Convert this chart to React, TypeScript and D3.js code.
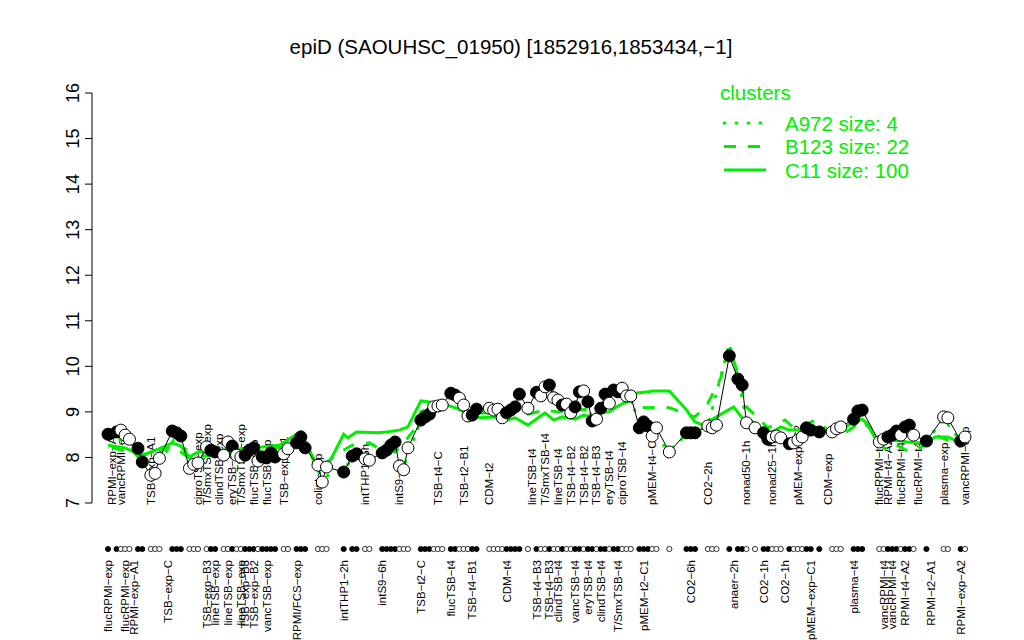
import React from 'react';
import * as d3 from 'd3';

const W = 1024;
const H = 640;
const GREEN = '#00ee00';
const FONT = '"Liberation Sans", Arial, Helvetica, sans-serif';

// condition slot, expression value, filled marker (1) or open (0)
const pointSlots = [
  0, 2, 3, 4, 5, 7, 8, 10, 11, 12, 15, 16, 17, 19, 20, 21, 23, 24, 25, 27,
  28, 29, 30, 31, 32, 33, 34, 35, 36, 37, 38, 39, 41, 42, 44, 45, 46, 49, 50, 51,
  55, 57, 58, 60, 61, 64, 65, 66, 67, 68, 69, 70, 73, 74, 75, 76, 77, 78, 80, 81,
  82, 83, 84, 85, 86, 89, 90, 91, 92, 93, 94, 95, 96, 98, 100, 101, 102, 103, 104, 105,
  106, 107, 108, 109, 110, 111, 112, 113, 114, 115, 116, 117, 118, 119, 120, 121, 122, 124, 125, 126,
  127, 128, 131, 135, 136, 137, 140, 141, 142, 145, 147, 148, 149, 151, 153, 154, 155, 156, 157, 159,
  160, 161, 162, 163, 164, 166, 169, 170, 171, 174, 175, 176, 180, 181, 182, 183, 184, 185, 186, 187,
  188, 191, 195, 196, 199, 200,
];
const pointValues = [
  8.51, 8.56, 8.6, 8.49, 8.4, 8.2, 7.9, 7.61, 7.65, 7.98, 8.58, 8.54, 8.47, 7.76, 7.85, 7.88, 8.23, 8.16, 8.12, 8.05,
  8.34, 8.25, 8.05, 8.01, 8.05, 8.16, 8.21, 7.92, 8.01, 7.99, 8.1, 8.01, 8.08, 8.19, 8.32, 8.45, 8.21, 7.83, 7.46, 7.79,
  7.68, 8.03, 8.08, 7.97, 7.94, 8.1, 8.16, 8.27, 8.34, 7.81, 7.73, 8.21, 8.82, 8.89, 8.95, 9.11, 9.13, 9.15, 9.41, 9.37,
  9.3, 9.15, 8.91, 8.93, 9.06, 9.08, 9.04, 9.06, 8.87, 8.98, 9.04, 9.11, 9.39, 9.08, 9.43, 9.35, 9.55, 9.59, 9.31, 9.26,
  9.15, 9.17, 8.98, 9.11, 9.44, 9.46, 9.22, 8.8, 8.84, 9.08, 9.39, 9.19, 9.48, 9.44, 9.52, 9.35, 9.35, 8.65, 8.78, 8.69,
  8.47, 8.65, 8.12, 8.54, 8.54, 8.54, 8.69, 8.65, 8.71, 10.23, 9.72, 9.59, 8.76, 8.65, 8.54, 8.4, 8.45, 8.47, 8.43, 8.3,
  8.32, 8.38, 8.45, 8.65, 8.6, 8.56, 8.56, 8.63, 8.67, 8.84, 9.02, 9.04, 8.34, 8.4, 8.45, 8.49, 8.58, 8.49, 8.67, 8.71,
  8.49, 8.36, 8.89, 8.87, 8.36, 8.45,
];
const pointFilled = [
  1, 1, 0, 0, 0, 1, 1, 0, 0, 0, 1, 1, 1, 0, 0, 0, 0, 1, 1, 0,
  0, 1, 0, 0, 1, 1, 1, 0, 1, 1, 1, 1, 0, 0, 1, 1, 1, 0, 0, 0,
  1, 1, 1, 0, 0, 1, 1, 1, 1, 0, 0, 0, 1, 1, 1, 0, 0, 0, 1, 1,
  0, 0, 0, 1, 1, 0, 0, 0, 0, 1, 1, 1, 1, 0, 1, 0, 0, 1, 0, 0,
  1, 0, 0, 1, 1, 0, 1, 1, 0, 1, 1, 0, 1, 1, 0, 0, 0, 1, 1, 1,
  0, 0, 0, 1, 1, 1, 0, 0, 0, 1, 1, 1, 0, 0, 1, 1, 0, 0, 0, 1,
  0, 0, 0, 1, 1, 1, 0, 0, 0, 1, 1, 1, 0, 0, 1, 1, 1, 0, 1, 1,
  0, 1, 0, 0, 1, 0,
];

// cluster profiles
const c11Slots = [
  0, 4, 6, 7, 10, 13, 15, 17, 19, 21, 25, 29, 32, 36, 40, 43, 45, 47, 49, 51,
  55, 56, 58, 63, 65, 68, 70, 73, 75, 76, 79, 82, 84, 87, 90, 93, 95, 98, 102, 104,
  106, 109, 111, 113, 115, 117, 119, 122, 123, 126, 127, 131, 135, 137, 139, 142, 144, 146, 148, 150,
  153, 155, 157, 159, 161, 165, 168, 171, 174, 176, 177, 179, 182, 185, 188, 191, 193, 196, 199,
];
const c11Values = [
  8.27, 8.21, 8.12, 8.01, 8.12, 8.23, 8.32, 8.25, 8.01, 8.12, 8.16, 8.16, 8.21, 8.23, 8.27, 8.45, 8.56, 8.16, 7.79, 7.77,
  8.51, 8.43, 8.56, 8.54, 8.56, 8.6, 8.67, 9.24, 9.22, 9.13, 9.15, 9.06, 8.93, 8.87, 8.89, 8.82, 8.87, 8.71, 8.98, 8.82,
  8.89, 8.84, 8.93, 8.89, 8.98, 9.0, 9.13, 9.26, 9.41, 9.44, 9.46, 9.46, 9.04, 8.78, 8.71, 8.89, 9.0, 9.11, 8.87, 8.82,
  8.54, 8.56, 8.67, 8.6, 8.6, 8.6, 8.6, 8.6, 8.78, 8.84, 8.76, 8.43, 8.38, 8.36, 8.32, 8.32, 8.45, 8.45, 8.32,
];
const b123Slots = [
  1, 6, 10, 15, 19, 24, 31, 38, 45, 48, 49, 53, 57, 61, 63, 67, 69, 72, 73, 77,
  80, 81, 85, 88, 91, 95, 98, 102, 105, 109, 113, 117, 122, 123, 126, 130, 132, 135, 137, 140,
  143, 145, 147, 149, 151, 154, 158, 160, 162, 165, 168, 172, 174, 176, 178, 179, 182, 184, 187, 190,
  193, 196, 199,
];
const b123Values = [
  8.21, 8.1, 8.05, 8.25, 7.99, 8.05, 8.12, 8.16, 8.38, 7.94, 7.72, 8.05, 8.27, 8.32, 8.21, 8.12, 8.32, 8.67, 9.0, 9.17,
  9.19, 9.09, 8.95, 8.98, 8.98, 9.04, 8.95, 9.04, 9.0, 9.04, 9.06, 9.11, 9.24, 9.11, 9.09, 9.11, 9.06, 8.93, 8.89, 9.19,
  9.74, 10.4, 9.85, 9.11, 8.93, 8.65, 8.82, 8.65, 8.67, 8.82, 8.6, 8.54, 8.67, 8.82, 8.65, 8.34, 8.16, 8.27, 8.12, 8.23,
  8.49, 8.38, 8.23,
];
const a972Slots = [
  0, 5, 8, 11, 16, 20, 25, 30, 36, 41, 45, 50, 55, 58, 61, 66, 69, 73, 77, 80,
  84, 89, 93, 96, 100, 103, 108, 111, 113, 118, 122, 124, 127, 131, 135, 140, 145, 147, 149, 153,
  159, 163, 170, 175, 180, 184, 188, 191, 195, 199,
];
const a972Values = [
  8.45, 8.35, 7.95, 7.7, 8.5, 7.9, 8.1, 8.05, 8.0, 8.1, 8.4, 7.55, 7.75, 8.05, 7.95, 8.3, 7.8, 8.8, 9.1, 9.35,
  8.95, 9.05, 9.0, 9.35, 9.4, 9.55, 9.0, 9.4, 8.85, 9.45, 9.35, 8.7, 8.5, 8.15, 8.5, 8.7, 10.5, 9.75, 8.8, 8.55,
  8.3, 8.6, 8.6, 8.95, 8.35, 8.55, 8.5, 8.35, 8.85, 8.35,
];

// condition labels above the marker row and below it
const topLabelSlots = [
  1, 3, 10, 21, 23, 26, 29, 31, 34, 37, 41, 49, 60, 68, 77, 83, 89, 99, 102, 105,
  108, 111, 114, 117, 120, 127, 140, 149, 155, 161, 168, 180, 182, 185, 189, 195, 200,
];
const topLabels = [
  'RPMI−exp−A2', 'vancRPMI−exp', 'TSB−exp−A1', 'ciproTSB−exp', 'T/SmxTSB−exp', 'clindTSB−exp', 'eryTSB−exp',
  'T/SmxTSB−exp', 'flucTSB−exp', 'flucTSB−exp', 'TSB−exp−B1', 'colist−exp', 'intTHP1−6h', 'intS9−2h',
  'TSB−t4−C', 'TSB−t2−B1', 'CDM−t2', 'lineTSB−t4', 'T/SmxTSB−t4', 'lineTSB−t4', 'TSB−t4−B2', 'TSB−t4−B2',
  'TSB−t4−B3', 'eryTSB−t4', 'ciproTSB−t4', 'pMEM−t4−C1', 'CO2−2h', 'nonad50−1h', 'nonad25−1h',
  'pMEM−exp−C2', 'CDM−exp', 'flucRPMI−t4', 'RPMI−t4−A2', 'flucRPMI−t4', 'flucRPMI−t4', 'plasma−exp',
  'vancRPMI−exp',
];
const bottomLabelSlots = [
  0, 4, 6, 14, 23, 25, 28, 31, 32, 34, 37, 44, 55, 64, 73, 80, 85, 93, 100, 103,
  105, 109, 112, 115, 119, 125, 136, 146, 153, 158, 164, 174, 181, 183, 186, 192, 199,
];
const bottomLabels = [
  'flucRPMI−exp', 'flucRPMI−exp', 'RPMI−exp−A1', 'TSB−exp−C', 'TSB−exp−B3', 'lineTSB−exp', 'lineTSB−exp',
  'lineTSB−exp', 'TSB−exp−B3', 'TSB−exp−B2', 'vancTSB−exp', 'RPMI/FCS−exp', 'intTHP1−2h', 'intS9−6h',
  'TSB−t2−C', 'flucTSB−t4', 'TSB−t4−B1', 'CDM−t4', 'TSB−t4−B3', 'TSB−t4−B3', 'clindTSB−t4', 'vancTSB−t4',
  'eryTSB−t4', 'clindTSB−t4', 'T/SmxTSB−t4', 'pMEM−t2−C1', 'CO2−6h', 'anaer−2h', 'CO2−1h', 'CO2−1h',
  'pMEM−exp−C1', 'plasma−t4', 'vancRPMI−t4', 'vancRPMI−t4', 'RPMI−t4−A2', 'RPMI−t2−A1', 'RPMI−exp−A2',
];

const yTicks = [7, 8, 9, 10, 11, 12, 13, 14, 15, 16];

const legendItems = [
  { label: 'A972 size: 4', dash: '1 11' },
  { label: 'B123 size: 22', dash: '12 12' },
  { label: 'C11 size: 100', dash: '' },
];

export default function App() {
  const x = d3.scaleLinear().domain([0, 200]).range([108, 965]);
  const y = d3.scaleLinear().domain([7, 16]).range([503, 93]);
  const axisX = 92;
  const rugY = 549;

  const line = d3
    .line<[number, number]>()
    .x((d) => x(d[0]))
    .y((d) => y(d[1]));

  const zip = (s: number[], v: number[]) => s.map((k, i) => [k, v[i]] as [number, number]);

  const points = pointSlots.map((s, i) => ({ s, v: pointValues[i], f: pointFilled[i] === 1 }));

  return (
    <svg width={W} height={H} style={{ position: 'absolute', left: 0, top: 0, background: '#fff' }} fontFamily={FONT}>
      <rect width={W} height={H} fill="#fff" />
      <text x={511} y={54} textAnchor="middle" fontSize={20.5}>
        epiD (SAOUHSC_01950) [1852916,1853434,−1]
      </text>

      {/* y axis */}
      <line x1={axisX} x2={axisX} y1={y(7)} y2={y(16)} stroke="#000" />
      {yTicks.map((t) => (
        <g key={t}>
          <line x1={axisX - 7} x2={axisX} y1={y(t)} y2={y(t)} stroke="#000" />
          <text
            transform={`translate(79,${y(t)}) rotate(-90)`}
            textAnchor="middle"
            fontSize={18}
          >
            {t}
          </text>
        </g>
      ))}

      {/* condition labels (under the marks) */}
      {topLabels.map((l, i) => (
        <text
          key={`t${i}`}
          transform={`translate(${x(topLabelSlots[i]) + 4},505) rotate(-90)`}
          fontSize={11.5}
        >
          {l}
        </text>
      ))}
      {bottomLabels.map((l, i) => (
        <text
          key={`b${i}`}
          transform={`translate(${x(bottomLabelSlots[i]) + 4},560) rotate(-90)`}
          textAnchor="end"
          fontSize={11.5}
        >
          {l}
        </text>
      ))}

      {/* cluster lines */}
      <path d={line(zip(c11Slots, c11Values)) || ''} fill="none" stroke={GREEN} strokeWidth={3} />
      <path
        d={line(zip(b123Slots, b123Values)) || ''}
        fill="none"
        stroke={GREEN}
        strokeWidth={3}
        strokeDasharray="12 12"
      />
      <path
        d={line(zip(a972Slots, a972Values)) || ''}
        fill="none"
        stroke={GREEN}
        strokeWidth={3}
        strokeDasharray="1 11"
        strokeLinecap="round"
      />

      {/* gene profile */}
      <path d={line(zip(pointSlots, pointValues)) || ''} fill="none" stroke="#000" strokeWidth={1} />
      {points.map((p, i) => (
        <circle key={i} cx={x(p.s)} cy={y(p.v)} r={6} fill={p.f ? '#000' : '#fff'} stroke="#000" strokeWidth={1} />
      ))}

      {/* marker row */}
      {points.map((p, i) => (
        <circle key={`r${i}`} cx={x(p.s)} cy={rugY} r={2.6} fill={p.f ? '#000' : '#fff'} stroke="#000" strokeWidth={0.8} />
      ))}

      {/* legend */}
      <text x={720} y={100} fontSize={20.5} fill={GREEN}>
        clusters
      </text>
      {legendItems.map((it, i) => (
        <g key={it.label} transform={`translate(0,${123 + i * 23.5})`}>
          <line
            x1={724}
            x2={766}
            y1={0}
            y2={0}
            stroke={GREEN}
            strokeWidth={3}
            strokeDasharray={it.dash || undefined}
            strokeLinecap={i === 0 ? 'round' : 'butt'}
          />
          <text x={785} y={7.5} fontSize={20.5} fill={GREEN}>
            {it.label}
          </text>
        </g>
      ))}
    </svg>
  );
}
